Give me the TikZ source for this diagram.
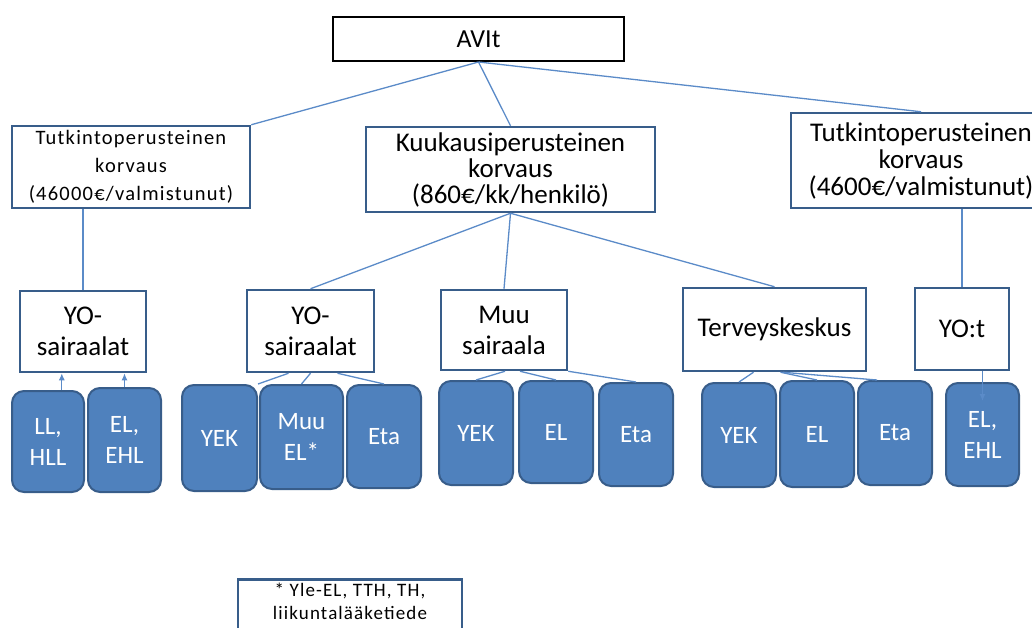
\documentclass[tikz,border=0pt]{standalone}
\usepackage{fontspec}
\usetikzlibrary{arrows.meta}
\setmainfont{Carlito}
\newfontfamily\spacedfont[LetterSpace=6]{Carlito}
\definecolor{leaffill}{HTML}{4F81BD}
\definecolor{leafedge}{HTML}{385D8A}
\definecolor{linkblue}{HTML}{5B8BC8}
\tikzset{topbox/.style={draw=black,line width=2pt,fill=white,minimum width=291pt,minimum height=44pt,font=\fontsize{26}{30}\selectfont},
         midbox/.style={draw=leafedge,line width=2.5pt,fill=white,align=center,inner sep=2pt,font=\fontsize{27}{29}\selectfont},
         leafbox/.style={draw=leafedge,line width=2pt,fill=leaffill,rounded corners=12pt,text=white,align=center,minimum width=74pt,minimum height=104pt,font=\fontsize{25}{31}\selectfont},
         conn/.style={draw=linkblue,line width=1.3pt},
         >={Latex[length=7pt,width=6pt]}}

\begin{document}
\begin{tikzpicture}[x=1pt,y=-1pt]
  \useasboundingbox (0,0) rectangle (1032,628);
  % top level
  \node[topbox] (avit) at (478.5,39) {AVIt};
  \node[midbox,minimum width=238pt,minimum height=82pt,font=\spacedfont\fontsize{20.5}{28}\selectfont] (tutL) at (131,167) {Tutkintoperusteinen\\korvaus\\(46000€/valmistunut)};
  \node[midbox,minimum width=289pt,minimum height=85pt,font=\fontsize{27}{26}\selectfont] (kuuk) at (510.5,169.5) {Kuukausiperusteinen\\korvaus\\(860€/kk/henkilö)};
  \node[midbox,minimum width=260pt,minimum height=95pt,font=\fontsize{27}{27}\selectfont] (tutR) at (921,160.5) {Tutkintoperusteinen\\korvaus\\(4600€/valmistunut)};
  % second level
  \node[midbox,minimum width=126pt,minimum height=81pt,font=\fontsize{27}{31}\selectfont] (yoL) at (83,331.5) {YO-\\sairaalat};
  \node[midbox,minimum width=127pt,minimum height=82pt,font=\fontsize{27}{31}\selectfont] (yoM) at (310.5,331) {YO-\\sairaalat};
  \node[midbox,minimum width=126pt,minimum height=80pt,font=\fontsize{27}{31}\selectfont] (muu) at (504,330) {Muu\\sairaala};
  \node[midbox,minimum width=183pt,minimum height=83pt] (terv) at (774.5,329.5) {Terveyskeskus};
  \node[midbox,minimum width=94pt,minimum height=82pt] (yot) at (962,329) {YO:t};
  % leaves
  \node[leafbox,minimum width=72pt,minimum height=101pt] (llhll) at (48,441.5) {LL,\\HLL};
  \node[leafbox,minimum width=73pt] (elehlL) at (124.5,440) {EL,\\EHL};
  \node[leafbox,minimum width=75pt,minimum height=106pt] (yekA) at (219.5,438) {YEK};
  \node[leafbox,minimum width=83pt] (muuel) at (301.5,437) {Muu\\EL*};
  \node[leafbox,minimum height=103pt] (etaA) at (384,436.5) {Eta};
  \node[leafbox] (yekB) at (476,433) {YEK};
  \node[leafbox,minimum height=102pt] (elB) at (556,432) {EL};
  \node[leafbox,minimum height=103pt] (etaB) at (636,434.5) {Eta};
  \node[leafbox] (yekC) at (739,435) {YEK};
  \node[leafbox,minimum height=106pt] (elC) at (817,434) {EL};
  \node[leafbox] (etaC) at (895,433) {Eta};
  \node[leafbox,minimum width=73pt,minimum height=103pt] (elehlR) at (982.5,434.5) {EL,\\EHL};
  % footnote
  \node[midbox,anchor=north,minimum width=224pt,inner ysep=4pt,font=\spacedfont\fontsize{19}{23}\selectfont] (note) at (350,578) {* Yle-EL, TTH, TH,\\liikuntalääketiede\strut};
  % connectors
  \draw[conn] (avit.south) -- (tutL.north east);
  \draw[conn] (avit.south) -- (kuuk.north);
  \draw[conn] (avit.south) -- (tutR.north);
  \draw[conn] (yoL.north) -- (yoL.north |- tutL.south);
  \draw[conn] (kuuk.south) -- (yoM.north);
  \draw[conn] (kuuk.south) -- (muu.north);
  \draw[conn] (kuuk.south) -- (terv.north);
  \draw[conn] (yot.north) -- (yot.north |- tutR.south);
  \draw[conn,->] (llhll.75) -- (llhll.75 |- yoL.south);
  \draw[conn,->] (elehlL.north) -- (elehlL.north |- yoL.south);
  \draw[conn] ([xshift=-22pt]yoM.south) -- (yekA.north east);
  \draw[conn] (yoM.south) -- (muuel.north);
  \draw[conn] ([xshift=27pt]yoM.south) -- (etaA.north);
  \draw[conn] ([xshift=1pt]muu.south) -- (yekB.north);
  \draw[conn] ([xshift=16pt]muu.south) -- (elB.north);
  \draw[conn] (muu.south east) -- (etaB.north);
  \draw[conn] ([xshift=-21pt]terv.south) -- (yekC.north);
  \draw[conn] ([xshift=6pt]terv.south) -- (elC.north);
  \draw[conn] ([xshift=8pt]terv.south) -- ([xshift=-18pt]etaC.north);
  \draw[conn,->] (elehlR.north |- yot.south) -- ([yshift=-19pt]elehlR.north);
\end{tikzpicture}
\end{document}
